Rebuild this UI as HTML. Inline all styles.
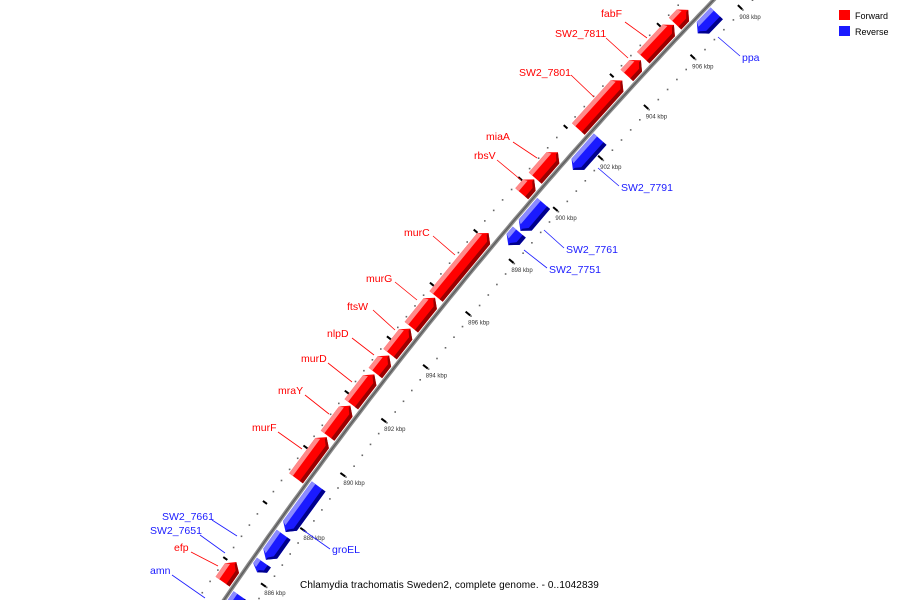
<!DOCTYPE html>
<html><head><meta charset="utf-8"><style>
html,body{margin:0;padding:0;background:#fff;width:900px;height:600px;overflow:hidden;}
svg{display:block;font-family:"Liberation Sans","DejaVu Sans",sans-serif;}
</style></head><body>
<svg id="map" width="900" height="600" viewBox="0 0 900 600" xmlns="http://www.w3.org/2000/svg">
<g id="dots"></g>
<g id="ticks"></g>
<path id="backbone" fill="none" stroke="#8a8a8a" stroke-width="4"/>
<path id="backbone2" fill="none" stroke="#5a5a5a" stroke-width="1.2"/>
<g id="genes"></g>
<g id="labels"></g>
<g>
<rect x="839" y="10" width="11" height="10" fill="#ff0000"/>
<text x="855" y="19" font-size="9" fill="#000">Forward</text>
<rect x="839" y="26" width="11" height="10" fill="#1a1aff"/>
<text x="855" y="35" font-size="9" fill="#000">Reverse</text>
</g>
<text x="300" y="588" font-size="10" letter-spacing="0.1" fill="#000">Chlamydia trachomatis Sweden2, complete genome. - 0..1042839</text>
</svg>
<script>
const geneNames = ["amn","efp","SW2_7651","SW2_7661","groEL","murF","mraY","murD","nlpD","ftsW","murG","murC","SW2_7751","SW2_7761","rbsV","miaA","SW2_7791","SW2_7801","SW2_7811","fabF","fab2","ppa","top1"];
const geneStarts = [884.0,885.4,886.2,886.65,887.65,889.1,890.65,891.8,892.95,893.65,894.65,895.8,898.3,898.85,899.7,900.3,901.2,902.2,904.3,905.0,906.35,906.6,907.9];
const geneEnds   = [885.35,886.1,886.55,887.55,889.3,890.6,891.75,892.9,893.6,894.6,895.75,898.2,898.8,899.9,900.25,901.3,902.4,904.1,904.9,906.3,906.9,907.4,909.5];
const geneStrand = [-1,1,-1,-1,-1,1,1,1,1,1,1,1,-1,-1,1,1,-1,1,1,1,1,-1,1];
const tickKbp = [886,888,890,892,894,896,898,900,902,904,906,908];
const tickLabels = ["886 kbp","888 kbp","890 kbp","892 kbp","894 kbp","896 kbp","898 kbp","900 kbp","902 kbp","904 kbp","906 kbp","908 kbp"];
const labelTexts = ["fabF","SW2_7811","SW2_7801","miaA","rbsV","murC","murG","ftsW","nlpD","murD","mraY","murF","efp","ppa","SW2_7791","SW2_7761","SW2_7751","groEL","SW2_7661","SW2_7651","amn"];
const labelStrand = [1,1,1,1,1,1,1,1,1,1,1,1,1,-1,-1,-1,-1,-1,-1,-1,-1];
const labelX = [601,555,519,486,474,404,366,347,327,301,278,252,174,742,621,566,549,332,162,150,150];
const labelY = [17,37,76,140,159,236,282,310,337,362,394,431,551,61,191,253,273,553,520,534,574];
const leaderPts = [[625,22,647,38],[606,38,628,58],[571,75,594,97],[513,142,537,158],[497,160,521,180],[433,236,455,255],[395,282,417,300],[373,310,395,330],[352,338,374,355],[328,363,352,382],[305,395,329,414],[278,432,302,449],[191,552,218,566],[740,56,718,37],[619,186,598,168],[564,248,544,230],[547,268,524,250],[330,549,303,530],[212,520,237,536],[200,535,225,553],[172,575,205,598]];

const NS="http://www.w3.org/2000/svg";
function L(k){const t=k-898;return [522+21.8*t+0.101*t*t,270-26.04*t+0.0736*t*t];}
function N(k){const t=k-898;const dx=21.8+0.202*t,dy=-26.04+0.147*t;const l=Math.hypot(dx,dy);return [-dy/l,dx/l];}
function Q(k,d){const p=L(k),n=N(k);return [p[0]-38*n[0]+d*n[0],p[1]-38*n[1]+d*n[1]];}
function pts(a){return a.map(p=>p[0].toFixed(1)+","+p[1].toFixed(1)).join(" ");}
function mk(tag,parent){const e=document.createElementNS(NS,tag);parent.appendChild(e);return e;}

let d="";for(let k=883;k<=910.5;k+=0.25){const p=Q(k,0);d+=(d?"L":"M")+p[0].toFixed(1)+","+p[1].toFixed(1);}
document.getElementById("backbone").setAttribute("d",d);
document.getElementById("backbone2").setAttribute("d",d);

const dg=document.getElementById("dots");
for(let k=883.2;k<=910;k+=0.4){
  [-22,28].forEach(off=>{const p=Q(k,off);const c=mk("rect",dg);
    
    
    c.setAttribute("x",(p[0]-0.8).toFixed(1));c.setAttribute("y",(p[1]-0.8).toFixed(1));c.setAttribute("width","1.6");c.setAttribute("height","1.6");c.setAttribute("fill","#666");});
}
const tg=document.getElementById("ticks");
tickKbp.forEach((k,i)=>{
  [[-25,-20],[21,27]].forEach(r=>{const a=Q(k,r[0]),b=Q(k,r[1]);const l=mk("line",tg);
    
    
    l.setAttribute("x1",a[0]);l.setAttribute("y1",a[1]);l.setAttribute("x2",b[0]);l.setAttribute("y2",b[1]);l.setAttribute("stroke","#000");l.setAttribute("stroke-width","2");});
  const p=L(k);const t=mk("text",tg);
  
  
  t.setAttribute("x",p[0]);t.setAttribute("y",p[1]+2);t.setAttribute("font-size","6");t.setAttribute("text-anchor","middle");t.setAttribute("fill","#333");
  t.textContent=tickLabels[i];
});
const gg=document.getElementById("genes");
geneNames.forEach((name,i)=>{
  const k1=geneStarts[i],k2=geneEnds[i],s=geneStrand[i];
  const len=k2-k1;let h=Math.min(0.22,len*0.45);
  const a=s>0?-3:3,b=s>0?-20:20,m=(a+b)/2,sg=s>0?1:-1;
  let poly,light,dark;
  if(s>0){
    poly=[Q(k1,a),Q(k2-h,a),Q(k2,m),Q(k2-h,b),Q(k1,b)];
    light=[Q(k1,b),Q(k2-h,b),Q(k2-h*0.7,b+sg*4.5),Q(k1,b+sg*4.5)];
    dark=[Q(k1,a),Q(k2-h,a),Q(k2,m),Q(k2-0.08,m),Q(k2-h,a-sg*4),Q(k1,a-sg*4)];
  }else{
    poly=[Q(k2,a),Q(k1+h,a),Q(k1,m),Q(k1+h,b),Q(k2,b)];
    light=[Q(k2,a),Q(k1+h,a),Q(k1+h*0.7,a+4.5),Q(k2,a+4.5)];
    dark=[Q(k2,b),Q(k1+h,b),Q(k1,m),Q(k1+0.08,m),Q(k1+h,b-4),Q(k2,b-4)];
  }
  const g=mk("g",gg);
  
  
  const p=mk("polygon",g);p.setAttribute("points",pts(poly));p.setAttribute("fill",s>0?"#ff0000":"#1a1aff");
  const lp=mk("polygon",g);lp.setAttribute("points",pts(light));lp.setAttribute("fill",s>0?"#ff8a8a":"#8a8aff");
  const dp=mk("polygon",g);dp.setAttribute("points",pts(dark));dp.setAttribute("fill",s>0?"#9a0000":"#00008c");
});
const lg=document.getElementById("labels");
labelTexts.forEach((txt,i)=>{
  const col=labelStrand[i]>0?"#ff0000":"#1a1aff";const lp=leaderPts[i];
  const l=mk("line",lg);
  
  
  l.setAttribute("x1",lp[0]);l.setAttribute("y1",lp[1]);l.setAttribute("x2",lp[2]);l.setAttribute("y2",lp[3]);l.setAttribute("stroke",col);l.setAttribute("stroke-width","0.8");
  const t=mk("text",lg);
  
  
  t.setAttribute("x",labelX[i]);t.setAttribute("y",labelY[i]);t.setAttribute("font-size","10.5");t.setAttribute("fill",col);
  t.textContent=txt;
});
</script>
</body></html>
